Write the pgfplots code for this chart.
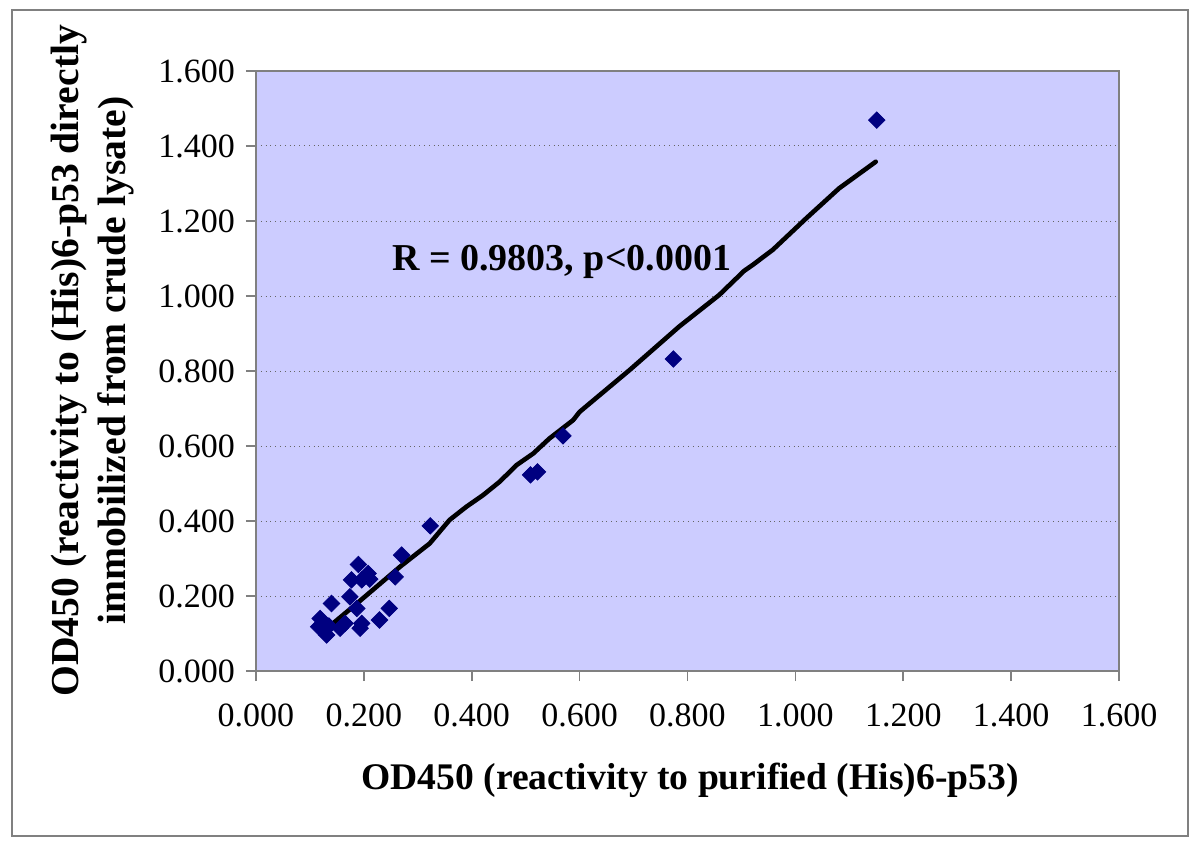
\documentclass[border=0pt]{standalone}
\usepackage{fontspec}
\setmainfont{Liberation Serif}
\usepackage{pgfplots}
\pgfplotsset{compat=1.18}
\definecolor{plotbg}{HTML}{CCCCFF}
\definecolor{navy}{HTML}{000080}
\definecolor{framegray}{HTML}{808080}
\begin{document}
\begin{tikzpicture}
\useasboundingbox (-128pt,-88pt) rectangle (472pt,335.5pt);
\draw[framegray, line width=0.6pt] (-122pt,-82.5pt) rectangle (466pt,330.5pt);
\begin{axis}[
  at={(0pt,0pt)}, anchor=south west,
  scale only axis, width=431.5pt, height=300pt,
  xmin=0, xmax=1.6, ymin=0, ymax=1.6,
  xtick={0,0.2,0.4,0.6,0.8,1.0,1.2,1.4,1.6},
  ytick={0,0.2,0.4,0.6,0.8,1.0,1.2,1.4,1.6},
  axis background/.style={fill=plotbg},
  axis line style={draw=framegray, line width=1.1pt},
  ymajorgrids,
  grid style={dotted, draw=black!60, line width=0.5pt},
  tick style={draw=framegray, line width=0.8pt},
  tick align=outside, major tick length=5pt,
  xtick pos=bottom, ytick pos=left,
  /pgf/number format/assume math mode=true,
  /pgf/number format/.cd, fixed, fixed zerofill, precision=3, /pgfplots/.cd,
  ticklabel style={font=\fontsize{17}{19}\selectfont},
  xticklabel style={yshift=-8pt},
  yticklabel style={xshift=-2pt},
  xlabel={OD450 (reactivity to purified (His)6-p53)},
  ylabel={OD450 (reactivity to (His)6-p53 directly\\immobilized from crude lysate)},
  xlabel style={font=\bfseries\fontsize{18.8}{21}\selectfont, at={(axis description cs:0.503,-0.183)}, anchor=center},
  ylabel style={font=\bfseries\fontsize{19.8}{23.5}\selectfont, at={(axis description cs:-0.189,0.517)}, anchor=center, rotate=0, align=center},
  clip=false,
]
\addplot[only marks, mark=square*, mark size=2.9pt, mark options={rotate=45, fill=navy, draw=navy}] coordinates {
 (0.323,0.387) (0.270,0.309) (0.258,0.251) (0.190,0.284) (0.208,0.260)
 (0.177,0.243) (0.196,0.243) (0.211,0.245) (0.174,0.198) (0.140,0.180)
 (0.187,0.167) (0.247,0.167) (0.229,0.136) (0.196,0.127) (0.193,0.114)
 (0.119,0.140) (0.116,0.118) (0.131,0.096) (0.156,0.114) (0.165,0.127)
 (0.135,0.120)
 (0.509,0.523) (0.522,0.531) (0.569,0.627) (0.774,0.832) (1.151,1.469)
};
\addplot[black, line width=2.3pt, line join=round, line cap=round] coordinates {
 (0.122,0.102) (0.187,0.180) (0.267,0.278) (0.322,0.340) (0.359,0.403)
 (0.390,0.438) (0.421,0.469) (0.452,0.505) (0.483,0.549) (0.514,0.580)
 (0.544,0.620) (0.588,0.669) (0.600,0.691) (0.693,0.803) (0.785,0.919)
 (0.859,1.003) (0.905,1.067) (0.921,1.083) (0.958,1.123) (1.020,1.207)
 (1.081,1.287) (1.149,1.358)
};
\node[font=\bfseries\fontsize{19}{21}\selectfont, anchor=center] at (axis cs:0.567,1.091) {R = 0.9803, p<0.0001};
\end{axis}
\end{tikzpicture}
\end{document}
